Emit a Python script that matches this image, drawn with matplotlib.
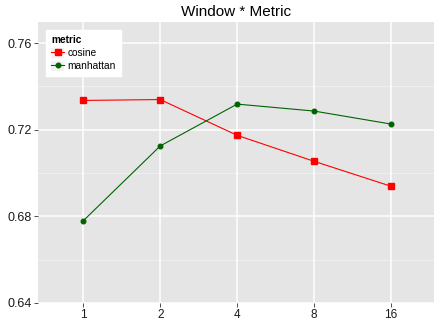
import matplotlib
matplotlib.use("Agg")
import matplotlib.pyplot as plt
from matplotlib.patches import Patch
from matplotlib.lines import Line2D

windows = ["1", "2", "4", "8", "16"]
cosine = [0.7335, 0.7339, 0.7174, 0.7054, 0.6939]
manhattan = [0.6780, 0.7125, 0.7318, 0.7286, 0.7226]
yticks = [0.64, 0.68, 0.72, 0.76]

plt.rcParams['font.family'] = ['Liberation Sans', 'DejaVu Sans']

fig = plt.figure(figsize=(4.34, 3.2), dpi=100)
ax = fig.add_axes([38/434, 1 - 303/320, (434-38)/434, (303-22)/320])
ax.set_facecolor('#E5E5E5')
x = list(range(1, len(windows) + 1))

for v in [0.66, 0.70, 0.74]:
    ax.axhline(v, color='#F2F2F2', lw=0.6, zorder=0)
for v in yticks:
    ax.axhline(v, color='white', lw=1.1, zorder=0)
for xi in x:
    ax.axvline(xi, color='white', lw=1.1, zorder=0)

l1, = ax.plot(x, cosine, color='#FF0000', marker='s', ms=4.4, lw=0.8, label='cosine', zorder=3)
l2, = ax.plot(x, manhattan, color='#006400', marker='o', ms=3.3, lw=0.8, label='manhattan', zorder=3)

ax.set_xlim(0.41, 5.56)
ax.set_ylim(0.64, 0.7697)
ax.set_xticks(x)
ax.set_xticklabels(windows)
ax.set_yticks(yticks)
ax.set_yticklabels([f"{v:.2f}" for v in yticks])
ax.tick_params(axis='both', length=3, width=0.6, color='#333333', labelsize=9, labelcolor='#1A1A1A', pad=1.5)
ax.tick_params(axis='x', labelsize=8.5, pad=1)
for s in ax.spines.values():
    s.set_visible(False)

ax.set_title("Window * Metric", fontsize=11, pad=4)

h1 = (Patch(facecolor='#F2F2F2', edgecolor='none'),
      Line2D([], [], color='#FF0000', marker='s', ms=4.4, lw=0.8))
h2 = (Patch(facecolor='#F2F2F2', edgecolor='none'),
      Line2D([], [], color='#006400', marker='o', ms=3.3, lw=0.8))
leg = ax.legend([h1, h2], ['cosine', 'manhattan'], title='metric', loc='upper left',
                bbox_to_anchor=(0.02, 0.9716), borderaxespad=0, fontsize=7.3,
                title_fontsize=7.3, frameon=True, fancybox=False, framealpha=1,
                edgecolor='white', handlelength=1.3, handleheight=1.2,
                borderpad=0.5, labelspacing=0.25, handletextpad=0.3)
leg.get_title().set_fontweight('bold')
leg._legend_box.align = 'left'

fig.savefig('out.png', dpi=100)
